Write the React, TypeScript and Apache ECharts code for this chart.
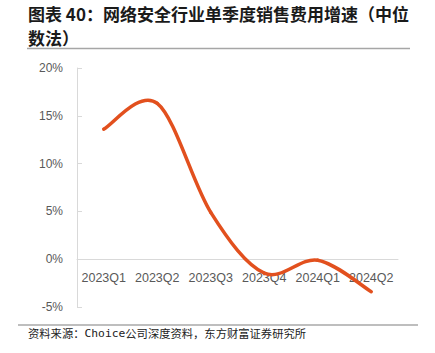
import React, { useEffect, useRef } from "react";
import * as echarts from "echarts";

const categories = ["2023Q1", "2023Q2", "2023Q3", "2023Q4", "2024Q1", "2024Q2"];
const growth = [13.6, 16.3, 4.9, -1.45, -0.1, -3.4];
const yTicks = { min: -5, max: 20, interval: 5 };
const titleLine1 = "图表 40：网络安全行业单季度销售费用增速（中位";
const titleLine2 = "数法）";
const sourcePre = "资料来源：";
const sourceLatin = "Choice";
const sourcePost = "公司深度资料，东方财富证券研究所";

export default function App() {
  const ref = useRef<HTMLDivElement>(null);
  useEffect(() => {
    if (!ref.current) return;
    const chart = echarts.init(ref.current, null, { renderer: "svg" });
    const n = growth.length;
    const titleStyle = {
      fontSize: 17,
      fontWeight: "bold",
      fill: "#1a1a1a",
      fontFamily: "Noto Sans CJK SC",
      verticalAlign: "middle",
      textVerticalAlign: "middle",
      align: "left",
    };
    chart.setOption({
      animation: false,
      backgroundColor: "#ffffff",
      grid: { left: 77, right: 37, top: 68, bottom: 46 },
      graphic: [
        {
          type: "text",
          x: 28,
          y: 13,
          style: { ...titleStyle, text: titleLine1 },
        },
        {
          type: "text",
          x: 28,
          y: 37.8,
          style: { ...titleStyle, text: titleLine2 },
        },
        {
          type: "line",
          shape: { x1: 27, y1: 48.5, x2: 410, y2: 48.5 },
          style: { stroke: "#a6a6a6", lineWidth: 1.5 },
        },
        {
          type: "line",
          shape: { x1: 18, y1: 325, x2: 418, y2: 325 },
          style: { stroke: "#7f7f7f", lineWidth: 1.2 },
        },
        {
          type: "text",
          x: 28,
          y: 333,
          style: {
            text: "{a|" + sourcePre + "}{b|" + sourceLatin + "}{a|" + sourcePost + "}",
            verticalAlign: "middle",
            textVerticalAlign: "middle",
            rich: {
              a: { fontSize: 11.3, fill: "#222", fontFamily: "Noto Sans CJK SC" },
              b: { fontSize: 11.3, fill: "#222", fontFamily: "DejaVu Sans Mono" },
            },
          },
        },
      ],
      xAxis: {
        type: "category",
        data: categories,
        boundaryGap: true,
        offset: -47.8,
        axisLine: { onZero: false, lineStyle: { color: "#d9d9d9", width: 1 } },
        axisTick: { show: false },
        axisLabel: {
          color: "#595959",
          fontSize: 12.5,
          fontFamily: "Liberation Sans",
          margin: 12,
          interval: 0,
        },
        splitLine: { show: false },
      },
      yAxis: {
        type: "value",
        min: yTicks.min,
        max: yTicks.max,
        interval: yTicks.interval,
        axisLine: { show: true, lineStyle: { color: "#d9d9d9", width: 1 } },
        axisTick: { show: true, inside: true, length: 5, lineStyle: { color: "#d9d9d9" } },
        axisLabel: {
          color: "#595959",
          fontSize: 12,
          fontFamily: "Liberation Sans",
          margin: 14,
          formatter: (v: number) => v + "%",
        },
        splitLine: { show: false },
      },
      series: [
        {
          type: "custom",
          clip: false,
          encode: { x: 0, y: 1 },
          data: growth.map((v, i) => [i, v]),
          renderItem: (params: any, api: any) => {
            const i = params.dataIndex;
            if (i >= n - 1) return null;
            const pt = (k: number) => {
              const kk = Math.max(0, Math.min(n - 1, k));
              return api.coord([kk, growth[kk]]);
            };
            const p0 = pt(i - 1);
            const p1 = pt(i);
            const p2 = pt(i + 1);
            const p3 = pt(i + 2);
            const t = 1 / 6;
            return {
              type: "bezierCurve",
              shape: {
                x1: p1[0],
                y1: p1[1],
                cpx1: p1[0] + (p2[0] - p0[0]) * t,
                cpy1: p1[1] + (p2[1] - p0[1]) * t,
                cpx2: p2[0] - (p3[0] - p1[0]) * t,
                cpy2: p2[1] - (p3[1] - p1[1]) * t,
                x2: p2[0],
                y2: p2[1],
              },
              style: {
                stroke: "#e2501e",
                lineWidth: 3.5,
                fill: "none",
                lineCap: "round",
              },
            };
          },
        },
      ],
    });
    return () => chart.dispose();
  }, []);
  return (
    <div
      ref={ref}
      style={{ position: "absolute", left: 0, top: 0, width: 435, height: 353 }}
    />
  );
}
